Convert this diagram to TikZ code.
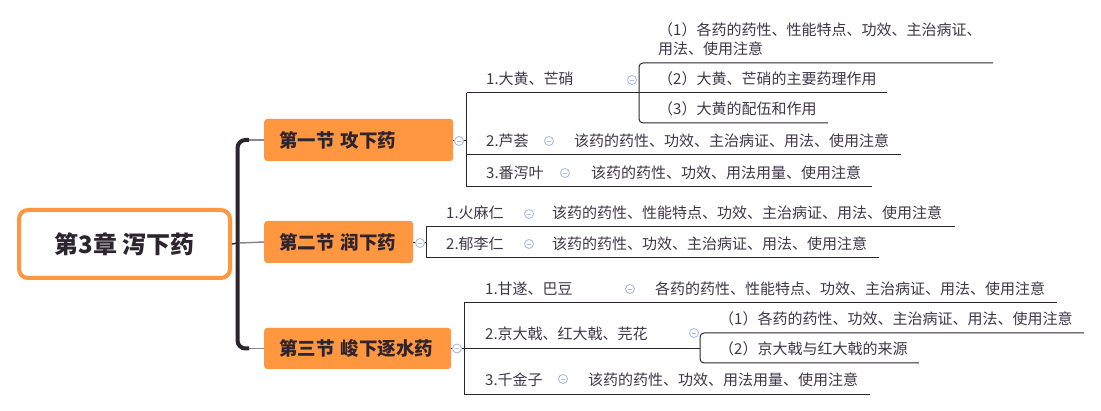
\documentclass[tikz,border=0pt]{standalone}
\usepackage{fontspec}
\setmainfont{Noto Sans CJK SC}
\definecolor{org}{HTML}{FF9640}
\definecolor{ln}{HTML}{2D2430}
\definecolor{tx}{HTML}{40364A}
\definecolor{cb}{HTML}{A9BCE6}
\definecolor{gr}{HTML}{8C8792}
\begin{document}
\begin{tikzpicture}[x=1pt,y=-1pt,
 leaf/.style={anchor=base west, inner sep=0pt, font=\fontsize{15}{19}\selectfont, text=tx},
 sect/.style={fill=org, rounded corners=3pt, anchor=west, inner xsep=15pt, inner ysep=0pt, align=left,
   minimum height=42pt, font=\fontsize{18.5}{20}\selectfont\bfseries, text=ln},
 col/.style={circle, draw=cb, fill=white, line width=0.9pt, minimum size=9pt, inner sep=0pt,
   path picture={\draw[cb, line width=0.9pt] ([xshift=-2.4pt]path picture bounding box.center) -- ([xshift=2.4pt]path picture bounding box.center);}},
 ul/.style={draw=ln, line width=1pt},
]
\fill[white] (0,0) rectangle (1101,411);
\useasboundingbox (0,0) rectangle (1101,411);

% root and sections
\node[draw=org, line width=4pt, rounded corners=9pt, minimum width=211pt, minimum height=68pt,
  font=\fontsize{24}{26}\selectfont\bfseries, text=ln, inner sep=0pt] (root) at (124.5,244) {第3章 泻下药};
\node[sect, text width=159pt, minimum height=42pt] (s1) at (264,140) {第一节~攻下药};
\node[sect, text width=119pt, minimum height=42pt] (s2) at (264,242) {第二节~润下药};
\node[sect, text width=157pt, minimum height=41pt] (s3) at (264,348.5) {第三节~峻下逐水药};

% trunk
\draw[ln, line width=1.5pt] (root.east) -- (237.5,243);
\draw[gr, line width=1.5pt] (240,243) -- (s2.west);
\draw[gr, line width=1.5pt] (246,140) -- (s1.west);
\draw[gr, line width=1.5pt] (246,348.5) -- (s3.west);
\draw[ln, line width=4pt, rounded corners=8pt] (249,140) -- (237.5,140) -- (237.5,348.5) -- (249,348.5);

% S1 connectors
\draw[ul] (s1.east |- 0,141) -- (466.5,141);
\draw[ul] (466.5,93) -- (466.5,187);
\draw[ul] (466.5,93) -- (639,93);
\draw[ul] (466.5,155) -- (901,155);
\draw[ul] (466.5,187) -- (872,187);
\draw[ul, rounded corners=4pt] (993,63) -- (639,63) -- (639,123) -- (828,123);
\draw[ul] (639,93) -- (887,93);
% S2 connectors
\draw[ul] (s2.east |- 0,243) -- (426.5,243);
\draw[ul] (955,227) -- (426.5,227) -- (426.5,258) -- (879,258);
% S3 connectors
\draw[ul] (s3.east |- 0,348.5) -- (464.5,348.5);
\draw[ul] (1057,303) -- (464.5,303) -- (464.5,394.5) -- (870,394.5);
\draw[ul] (464.5,348.5) -- (700,348.5);
\draw[ul, rounded corners=4pt] (1084,333) -- (700,333) -- (700,363) -- (919,363);

% S1 texts
\node[leaf] (p1) at (658,36) {\begin{tabular}[t]{@{}l@{}}（1）各药的药性、性能特点、功效、主治病证、\\用法、使用注意\end{tabular}};
\node[leaf] (p2) at (658,85) {（2）大黄、芒硝的主要药理作用};
\node[leaf] (p3) at (658,115) {（3）大黄的配伍和作用};
\node[leaf] (a1) at (486,85) {1.大黄、芒硝};
\node[leaf] (a2) at (486,147) {2.芦荟};
\node[leaf] (a2t) at (574,147) {该药的药性、功效、主治病证、用法、使用注意};
\node[leaf] (a3) at (486,179) {3.番泻叶};
\node[leaf] (a3t) at (591,179) {该药的药性、功效、用法用量、使用注意};
% S2 texts
\node[leaf] (b1) at (446,219) {1.火麻仁};
\node[leaf] (b1t) at (552,219) {该药的药性、性能特点、功效、主治病证、用法、使用注意};
\node[leaf] (b2) at (446,250) {2.郁李仁};
\node[leaf] (b2t) at (552,250) {该药的药性、功效、主治病证、用法、使用注意};
% S3 texts
\node[leaf] (d1) at (485,295) {1.甘遂、巴豆};
\node[leaf] (d1t) at (655,295) {各药的药性、性能特点、功效、主治病证、用法、使用注意};
\node[leaf] (d2) at (485,340) {2.京大戟、红大戟、芫花};
\node[leaf] (q1) at (719,325) {（1）各药的药性、功效、主治病证、用法、使用注意};
\node[leaf] (q2) at (719,355) {（2）京大戟与红大戟的来源};
\node[leaf] (d3) at (485,386) {3.千金子};
\node[leaf] (d3t) at (588,386) {该药的药性、功效、用法用量、使用注意};

% collapse markers
\node[col] (s1c) at (459,141) {};
\node[col] (s2c) at (420,243) {};
\node[col] (s3c) at (457,348.5) {};
\node[col] (a1c) at (632,80) {};
\node[col] (a2c) at (549,141) {};
\node[col] (a3c) at (565,173) {};
\node[col] (b1c) at (529,214) {};
\node[col] (b2c) at (529,244) {};
\node[col] (d1c) at (630,289) {};
\node[col] (d2c) at (694,333) {};
\node[col] (d3c) at (563,379) {};
\end{tikzpicture}
\end{document}
